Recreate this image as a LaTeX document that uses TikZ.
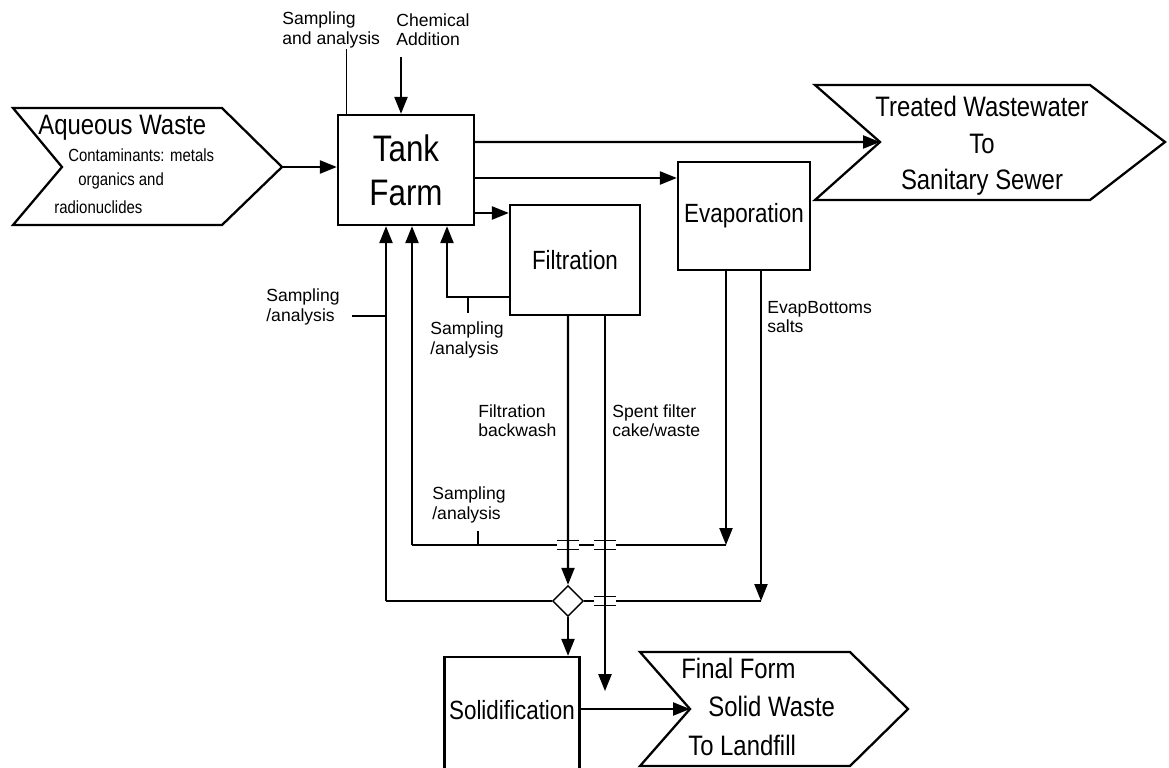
\documentclass[tikz,border=0pt]{standalone}
\usepackage{fontspec}
\setmainfont{Liberation Sans}
\newfontfamily\narrowsans[FakeStretch=0.85]{Liberation Sans}
\usetikzlibrary{arrows.meta, shapes.geometric, positioning, calc}

\begin{document}
\begin{tikzpicture}[x=0.02cm, y=-0.02cm,
  every node/.style={inner sep=0pt},
  unit/.style={
    rectangle, draw, line width=1.3pt,
    minimum width=2.7cm, minimum height=2.2cm,
    align=center, font=\narrowsans\fontsize{15}{18}\selectfont
  },
  stream/.style={draw, line width=1.3pt, line join=miter},
  flow/.style={-{Triangle[length=3.4mm,width=2.6mm]}, line width=1.3pt},
  recyc/.style={line width=0.9pt},
  tick/.style={line width=0.7pt},
  lbl/.style={align=left, anchor=west, font=\fontsize{10}{11}\selectfont},
  big/.style={anchor=west, font=\narrowsans\fontsize{16}{19}\selectfont},
  small/.style={anchor=west, font=\narrowsans\fontsize{10}{12}\selectfont},
  mixer/.style={diamond, draw, line width=0.8pt, fill=white,
    minimum width=0.62cm, minimum height=0.62cm}
]
  \useasboundingbox (0,0) rectangle (1169,767);

  % --- Corrientes de entrada y salida ---
  \draw[stream] (13,108) -- (222,108) -- (282,167) -- (222,225)
    -- (13,225) -- (62,167) -- cycle;
  \coordinate (aqout) at (282,167);
  \node[big] (aqtitle) at (38,128) {Aqueous Waste};
  \node[small] (aqc1) at (68,155) {Contaminants: metals};
  \node[small] (aqc2) at (78,181) {organics and};
  \node[small] (aqc3) at (54,207) {radionuclides};

  \draw[stream] (815,85) -- (1090,85) -- (1165,142) -- (1090,200)
    -- (815,200) -- (880,142) -- cycle;
  \coordinate (twin) at (880,142);
  \node[align=center, font=\narrowsans\fontsize{16}{20.7}\selectfont]
    (twtext) at (982,146) {Treated Wastewater\\To\\Sanitary Sewer};

  \draw[stream] (640,652) -- (850,652) -- (908,709) -- (850,766)
    -- (640,766) -- (690,709) -- cycle;
  \coordinate (ffin) at (690,709);
  \node[big] (ff1) at (681,668) {Final Form};
  \node[big] (ff2) at (708,706) {Solid Waste};
  \node[big] (ff3) at (688,745) {To Landfill};

  % --- Unidades ---
  \node[unit, minimum width=2.72cm, font=\narrowsans\fontsize{21}{25}\selectfont]
    (tank) at (406,170) {Tank\\Farm};
  \node[unit, minimum width=2.6cm] (filt) at (575,260) {Filtration};
  \node[unit, minimum width=2.64cm, minimum height=2.16cm] (evap) at (744,216) {Evaporation};
  \node[unit, minimum height=2.6cm, text height=0.4cm, text depth=0.5cm]
    (solid) at (512,722) {Solidification};
  \node[mixer] (mix) at (568,601) {};

  % --- Etiquetas ---
  \node[lbl] (sampA) at (282,30) {Sampling\\and analysis};
  \node[lbl] (chem)  at (396,30) {Chemical\\Addition};
  \node[lbl] (sampB) at (266,307) {Sampling\\/analysis};
  \node[lbl] (sampC) at (430,340) {Sampling\\/analysis};
  \node[lbl] (backw) at (478,421) {Filtration\\backwash};
  \node[lbl] (spent) at (612,421) {Spent filter\\cake/waste};
  \node[lbl] (sampD) at (432,505) {Sampling\\/analysis};
  \node[lbl] (bott)  at (767,317) {EvapBottoms\\salts};

  % --- Entradas al tanque ---
  \draw[flow] (aqout) -- (tank.west |- aqout);
  \draw[flow] ([xshift=0.1cm,yshift=-0.54cm]chem.west)
    -- ([xshift=0.1cm]chem.west |- tank.north);
  \draw[tick] ([xshift=0.2cm]tank.north west) -- ++(0,-65);

  % --- Salidas del tanque ---
  \draw[flow] ([yshift=0.56cm]tank.east) -- (twin);
  \draw[flow] ([yshift=-0.16cm]tank.east) -- ([yshift=-0.16cm]tank.east -| evap.west);
  \draw[flow] ([yshift=-0.86cm]tank.east) -- ([yshift=-0.86cm]tank.east -| filt.west);

  % --- Retorno desde filtracion ---
  \draw[flow] ([yshift=-0.74cm]filt.west) -| ([xshift=0.82cm]tank.south);
  \draw[tick] ([xshift=-0.82cm,yshift=-0.74cm]filt.west) -- ++(0,16);

  % --- Fondos del evaporador ---
  \coordinate (evA) at ([xshift=-0.36cm]evap.south |- 0,545);
  \coordinate (evB) at ([xshift=0.34cm]evap.south |- mix);
  \draw[flow] ([xshift=-0.36cm]evap.south) -- (evA);
  \draw[flow] ([xshift=0.34cm]evap.south) -- (evB);

  % --- Lineas de retorno ---
  \coordinate (r2) at ([xshift=0.12cm]tank.south |- evA);
  \coordinate (r1) at ([xshift=-0.4cm]tank.south |- mix);
  \draw[recyc] (evA) -- (r2);
  \draw[flow] (r2) -- ([xshift=0.12cm]tank.south);
  \draw[recyc] (mix.west) -- (r1);
  \draw[flow] (r1) -- ([xshift=-0.4cm]tank.south);
  \draw[recyc] (evB) -- (mix.east);
  \draw[tick] ([xshift=1.32cm]r2) -- ++(0,-14);
  \draw[tick] ([xshift=-0.68cm]r1 |- sampB.east) ++(0,9) -- ++(34,0);

  % --- Cruces ---
  \coordinate (spX) at ([xshift=0.6cm]filt.south);
  \foreach \c in {(mix |- evA), (spX |- evA), (spX |- mix)} {
    \fill[white] \c +(-11,-4) rectangle +(11,4);
    \draw[tick] \c +(-11,-4.5) -- +(11,-4.5);
    \draw[tick] \c +(-11,4.5) -- +(11,4.5);
  }

  % --- Salidas de filtracion ---
  \draw[flow] ([xshift=-0.14cm]filt.south) -- (mix.north);
  \draw[flow] (spX) -- ++(0,375);
  \draw[flow] (mix.south) -- (mix.south |- solid.north);
  \draw[flow] (solid.east |- ffin) -- (ffin);
\end{tikzpicture}
\end{document}
